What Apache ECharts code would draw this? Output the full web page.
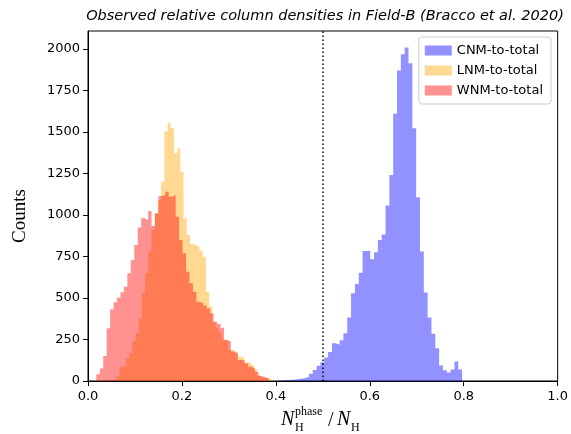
<!DOCTYPE html>
<html>
<head>
<meta charset="utf-8">
<script src="https://cdn.jsdelivr.net/npm/echarts@6/dist/echarts.min.js"></script>
<style>html,body{margin:0;padding:0;background:#fff}#c{width:571px;height:434px}</style>
</head>
<body>
<div id="c"></div>
<script>
// Histogram ranges [first edge, last edge], 50 bins each
const cnmRange = [0.389, 0.7965];
const lnmRange = [0.0603, 0.401];
const wnmRange = [0.0177, 0.385];
// Counts per bin
const cnmCounts = [1, 2, 3, 5, 6, 8, 10, 14, 18, 24, 44, 66, 92, 113, 141, 175, 227, 219, 245, 287,
  383, 528, 584, 652, 783, 783, 733, 775, 849, 883, 1057, 1241, 1609, 1870, 1968, 2009, 1914, 1522, 1107, 780,
  533, 382, 285, 197, 94, 64, 51, 69, 118, 69];
const lnmCounts = [30, 86, 92, 137, 167, 240, 287, 378, 528, 650, 780, 910, 1010, 1090, 1200, 1502, 1556, 1522, 1371, 1401,
  1261, 980, 880, 825, 817, 809, 785, 749, 538, 448, 357, 316, 290, 250, 240, 187, 187, 165, 146, 140,
  110, 116, 96, 72, 36, 20, 16, 12, 8, 5];
const wnmCounts = [40, 76, 151, 317, 432, 474, 502, 534, 568, 649, 729, 819, 924, 980, 970, 1024, 934, 1010, 1114, 1120,
  1140, 1110, 1120, 990, 849, 769, 658, 588, 538, 478, 468, 454, 438, 408, 357, 343, 320, 247, 237, 177,
  171, 127, 123, 107, 86, 76, 56, 30, 22, 16];
const seriesNames = ['CNM-to-total', 'LNM-to-total', 'WNM-to-total'];
const xTicks = [0, 0.2, 0.4, 0.6, 0.8, 1.0];
const yTicks = [0, 250, 500, 750, 1000, 1250, 1500, 1750, 2000];

// step-histogram outline: left edges with their counts, plus the closing right edge
function toSteps(range, counts) {
  const w = (range[1] - range[0]) / counts.length;
  const pts = counts.map((c, i) => [range[0] + i * w, c]);
  pts.push([range[1], counts[counts.length - 1]]);
  return pts;
}
const colors = ['rgba(0,0,255,0.43)', 'rgba(255,165,0,0.43)', 'rgba(255,0,0,0.43)'];
function histSeries(i, range, counts) {
  return {name: seriesNames[i], type: 'line', step: 'end', symbol: 'none', showSymbol: false,
    lineStyle: {width: 0, opacity: 0}, itemStyle: {color: colors[i]},
    areaStyle: {color: colors[i], opacity: 1}, data: toSteps(range, counts), z: 2 + i};
}
const chart = echarts.init(document.getElementById('c'), null, {renderer: 'canvas'});
const tickFont = {fontFamily: 'DejaVu Sans', fontSize: 13, color: '#000'};
const cnm = histSeries(0, cnmRange, cnmCounts);
cnm.markLine = {silent: true, symbol: 'none', label: {show: false}, animation: false,
  lineStyle: {color: '#000', type: [1.5, 2.5], width: 1.5, opacity: 1}, data: [{xAxis: 0.5}]};
chart.setOption({
  animation: false,
  title: {text: 'Observed relative column densities in Field-B (Bracco et al. 2020)', left: 320, top: 4, textAlign: 'center',
    textStyle: {fontStyle: 'italic', fontWeight: 'normal', fontSize: 14.5, fontFamily: 'DejaVu Sans', color: '#000'}},
  grid: {left: 88, right: 13, top: 31, bottom: 53, show: true, borderColor: '#000', borderWidth: 1},
  legend: {orient: 'vertical', right: 20, top: 37, itemWidth: 27, itemHeight: 10, itemGap: 7, icon: 'rect',
    padding: [7, 8, 7, 6], borderColor: '#ccc', borderWidth: 1, borderRadius: 3, backgroundColor: 'rgba(255,255,255,0.8)',
    textStyle: {fontFamily: 'DejaVu Sans', fontSize: 13, color: '#000'}, data: seriesNames},
  xAxis: {type: 'value', min: xTicks[0], max: xTicks[xTicks.length - 1], interval: 0.2,
    axisLine: {lineStyle: {color: '#000'}}, axisTick: {length: 5, lineStyle: {color: '#000'}},
    splitLine: {show: false}, axisLabel: Object.assign({margin: 9, formatter: v => v.toFixed(1)}, tickFont)},
  yAxis: {type: 'value', min: 0, max: 2108, interval: 250,
    axisLine: {show: true, lineStyle: {color: '#000'}}, axisTick: {show: true, length: 5, lineStyle: {color: '#000'}},
    splitLine: {show: false}, axisLabel: Object.assign({margin: 8, showMaxLabel: false, formatter: v => String(v)}, tickFont)},
  graphic: [
    {type: 'text', x: 20, y: 216, rotation: Math.PI / 2, style: {text: 'Counts', font: '19px "Liberation Serif"', textAlign: 'center', textVerticalAlign: 'middle', align: 'center', verticalAlign: 'middle', fill: '#000'}},
    {type: 'text', x: 281, y: 430, style: {text: 'N', font: 'italic 20px "Liberation Serif"', textVerticalAlign: 'bottom', verticalAlign: 'bottom', fill: '#000'}},
    {type: 'text', x: 295, y: 434, style: {text: 'H', font: '12px "Liberation Serif"', textVerticalAlign: 'bottom', verticalAlign: 'bottom', fill: '#000'}},
    {type: 'text', x: 295, y: 418, style: {text: 'phase', font: '12px "Liberation Serif"', textVerticalAlign: 'bottom', verticalAlign: 'bottom', fill: '#000'}},
    {type: 'text', x: 328, y: 431, style: {text: '/', font: '20px "Liberation Serif"', textVerticalAlign: 'bottom', verticalAlign: 'bottom', fill: '#000'}},
    {type: 'text', x: 337, y: 430, style: {text: 'N', font: 'italic 20px "Liberation Serif"', textVerticalAlign: 'bottom', verticalAlign: 'bottom', fill: '#000'}},
    {type: 'text', x: 351, y: 434, style: {text: 'H', font: '12px "Liberation Serif"', textVerticalAlign: 'bottom', verticalAlign: 'bottom', fill: '#000'}}
  ],
  series: [
    cnm,
    histSeries(1, lnmRange, lnmCounts),
    histSeries(2, wnmRange, wnmCounts)
  ]
});
</script>
</body>
</html>
